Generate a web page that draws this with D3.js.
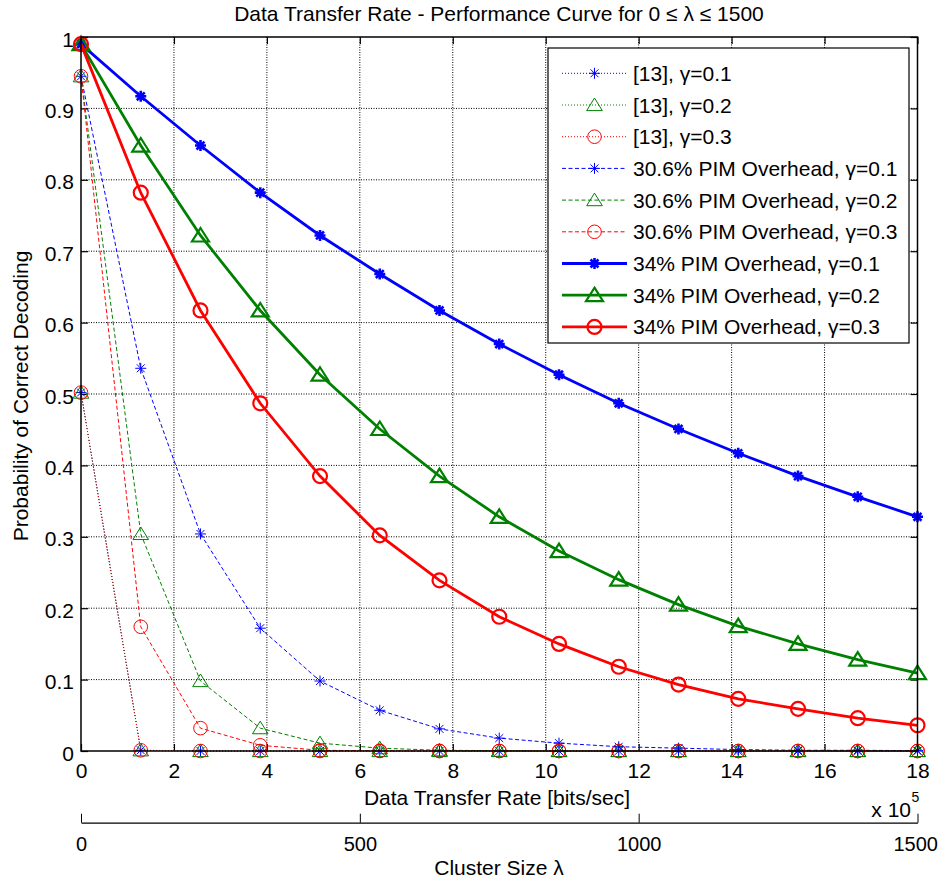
<!DOCTYPE html>
<html><head><meta charset="utf-8">
<script src="https://cdn.jsdelivr.net/npm/d3@7"></script>
<style>
body{margin:0;background:#fff;}
text{font-family:"Liberation Sans",Arial,Helvetica,sans-serif;fill:#000;}
</style>
</head><body>
<svg id="chart" width="939" height="885"></svg>
<script>
// ---------- data ----------
const rateX = [0, 1.286, 2.571, 3.857, 5.143, 6.429, 7.714, 9, 10.286, 11.571, 12.857, 14.143, 15.429, 16.714, 18];
const xTickValues = [0, 2, 4, 6, 8, 10, 12, 14, 16, 18];
const yTickValues = [0, 0.1, 0.2, 0.3, 0.4, 0.5, 0.6, 0.7, 0.8, 0.9, 1];
const yTickLabels = ["0", "0.1", "0.2", "0.3", "0.4", "0.5", "0.6", "0.7", "0.8", "0.9", "1"];
const lambdaTicks = [0, 500, 1000, 1500];

const ref13_g1 = [0.502, 0.001, 0, 0, 0, 0, 0, 0, 0, 0, 0, 0, 0, 0, 0];
const ref13_g2 = [0.502, 0.001, 0, 0, 0, 0, 0, 0, 0, 0, 0, 0, 0, 0, 0];
const ref13_g3 = [0.502, 0.001, 0, 0, 0, 0, 0, 0, 0, 0, 0, 0, 0, 0, 0];
const pim306_g1 = [0.945, 0.536, 0.304, 0.172, 0.098, 0.057, 0.031, 0.018, 0.011, 0.006, 0.004, 0.002, 0.001, 0.001, 0.0005];
const pim306_g2 = [0.945, 0.304, 0.098, 0.032, 0.011, 0.004, 0.001, 0.0005, 0, 0, 0, 0, 0, 0, 0];
const pim306_g3 = [0.945, 0.174, 0.032, 0.008, 0.001, 0.0003, 0, 0, 0, 0, 0, 0, 0, 0, 0];
const pim34_g1 = [0.99, 0.917, 0.848, 0.782, 0.722, 0.668, 0.617, 0.570, 0.527, 0.487, 0.451, 0.417, 0.385, 0.356, 0.328];
const pim34_g2 = [0.99, 0.848, 0.722, 0.617, 0.527, 0.451, 0.385, 0.328, 0.280, 0.240, 0.205, 0.175, 0.150, 0.128, 0.109];
const pim34_g3 = [0.99, 0.782, 0.617, 0.487, 0.385, 0.302, 0.239, 0.188, 0.150, 0.118, 0.093, 0.073, 0.059, 0.046, 0.036];

const seriesLabels = ["[13], γ=0.1", "[13], γ=0.2", "[13], γ=0.3",
  "30.6% PIM Overhead, γ=0.1", "30.6% PIM Overhead, γ=0.2", "30.6% PIM Overhead, γ=0.3",
  "34% PIM Overhead, γ=0.1", "34% PIM Overhead, γ=0.2", "34% PIM Overhead, γ=0.3"];
const seriesValues = [ref13_g1, ref13_g2, ref13_g3, pim306_g1, pim306_g2, pim306_g3, pim34_g1, pim34_g2, pim34_g3];
const seriesColors = ["#0000ff", "#008000", "#ff0000", "#0000ff", "#008000", "#ff0000", "#0000ff", "#008000", "#ff0000"];
const seriesMarkers = ["star", "tri", "circ", "star", "tri", "circ", "star", "tri", "circ"];
const seriesStyles = ["dot", "dot", "dot", "dash", "dash", "dash", "solid", "solid", "solid"];

const titleText = "Data Transfer Rate - Performance Curve for 0 ≤ λ ≤ 1500";
const xLabelText = "Data Transfer Rate [bits/sec]";
const yLabelText = "Probability of Correct Decoding";
const lambdaLabelText = "Cluster Size λ";

// ---------- layout ----------
const L = 81, R = 917.5, T = 37, B = 751;
const FS = 21;
const svg = d3.select("#chart");
svg.append("rect").attr("width", 939).attr("height", 885).attr("fill", "#fff");

const x = d3.scaleLinear().domain([0, 18]).range([L, R]);
const y = d3.scaleLinear().domain([0, 1]).range([B, T]);
const lam = d3.scaleLinear().domain([0, 1500]).range([L, R]);

// grid
const grid = svg.append("g");
grid.selectAll(".gx").data(xTickValues.filter(v => v > 0 && v < 18)).join("line")
  .attr("x1", d => x(d)).attr("x2", d => x(d)).attr("y1", T).attr("y2", B)
  .attr("stroke", "#000").attr("stroke-width", 1).attr("stroke-dasharray", "1,1.5");
grid.selectAll(".gy").data(yTickValues.filter(v => v > 0 && v < 1)).join("line")
  .attr("x1", L).attr("x2", R).attr("y1", d => y(d)).attr("y2", d => y(d))
  .attr("stroke", "#000").attr("stroke-width", 1).attr("stroke-dasharray", "1,1.5");

// axes
function styleAxis(g) {
  g.selectAll("text").style("font-size", FS + "px").style("font-family", "'Liberation Sans',Arial,sans-serif").attr("fill", "#000");
  g.selectAll("line").attr("stroke", "#000").attr("stroke-width", 1.2);
  g.select(".domain").remove();
}
svg.append("g").attr("transform", `translate(0,${B})`)
  .call(d3.axisBottom(x).tickValues(xTickValues).tickSize(-7).tickPadding(12.3).tickFormat(d3.format("d")))
  .call(styleAxis);
svg.append("g").attr("transform", `translate(0,${T})`)
  .call(d3.axisTop(x).tickValues(xTickValues).tickSize(-7).tickFormat(""))
  .call(styleAxis);
const yAx = svg.append("g").attr("transform", `translate(${L},0)`)
  .call(d3.axisLeft(y).tickValues(yTickValues).tickSize(-7).tickPadding(7).tickFormat((d, i) => yTickLabels[i]))
  .call(styleAxis);
yAx.selectAll("text").attr("dy", "0.43em");
svg.append("g").attr("transform", `translate(${R},0)`)
  .call(d3.axisRight(y).tickValues(yTickValues).tickSize(-7).tickFormat(""))
  .call(styleAxis);

// series
const lineGen = d3.line().x((d, i) => x(rateX[i])).y(d => y(d));
const plot = svg.append("g");
function drawMarker(g, type, cx, cy, color, heavy) {
  const sw = heavy ? 2.2 : 1;
  if (type === "circ") {
    g.append("circle").attr("cx", cx).attr("cy", cy).attr("r", heavy ? 7 : 6.8)
      .attr("fill", "none").attr("stroke", color).attr("stroke-width", sw);
  } else if (type === "tri") {
    const h = heavy ? 7.5 : 7;
    const w = heavy ? 8.5 : 7.8;
    g.append("path").attr("d", `M${cx},${cy - h}L${cx + w},${cy + h * 0.8}L${cx - w},${cy + h * 0.8}Z`)
      .attr("fill", "none").attr("stroke", color).attr("stroke-width", sw).attr("stroke-linejoin", "miter");
  } else {
    const s = 5.5, d = s * 0.72;
    g.append("path").attr("d", `M${cx - s},${cy}H${cx + s}M${cx},${cy - s}V${cy + s}M${cx - d},${cy - d}L${cx + d},${cy + d}M${cx - d},${cy + d}L${cx + d},${cy - d}`)
      .attr("fill", "none").attr("stroke", color).attr("stroke-width", heavy ? 2.6 : 1);
  }
}
function lineAttrs(sel, style, color) {
  sel.attr("fill", "none").attr("stroke", color)
    .attr("stroke-width", style === "solid" ? 2.8 : 1)
    .attr("stroke-dasharray", style === "dot" ? "1,2" : style === "dash" ? "4,2.5" : null);
}
seriesValues.forEach((vals, k) => {
  const g = plot.append("g");
  g.append("path").datum(vals).attr("d", lineGen).call(lineAttrs, seriesStyles[k], seriesColors[k]);
  vals.forEach((v, i) => drawMarker(g, seriesMarkers[k], x(rateX[i]), y(v), seriesColors[k], seriesStyles[k] === "solid"));
});

// frame
svg.append("rect").attr("x", L).attr("y", T).attr("width", R - L).attr("height", B - T)
  .attr("fill", "none").attr("stroke", "#000").attr("stroke-width", 1.5);

// legend
const lg = svg.append("g");
lg.append("rect").attr("x", 548).attr("y", 48).attr("width", 361).attr("height", 295)
  .attr("fill", "#fff").attr("stroke", "#000").attr("stroke-width", 1.2);
seriesLabels.forEach((lbl, k) => {
  const cy = 73.3 + k * 31.7;
  const gi = lg.append("g");
  gi.append("line").attr("x1", 562).attr("x2", 627).attr("y1", cy).attr("y2", cy)
    .call(lineAttrs, seriesStyles[k], seriesColors[k]);
  drawMarker(gi, seriesMarkers[k], 594.5, cy, seriesColors[k], seriesStyles[k] === "solid");
  gi.append("text").attr("x", 633).attr("y", cy + 7.5).style("font-size", FS + "px").text(lbl);
});

// titles
svg.append("text").attr("x", 499).attr("y", 21).attr("text-anchor", "middle").style("font-size", "21px").text(titleText);
svg.append("text").attr("x", 497).attr("y", 805).attr("text-anchor", "middle").style("font-size", FS + "px").text(xLabelText);
svg.append("text").attr("transform", "translate(28,396) rotate(-90)").attr("text-anchor", "middle").style("font-size", FS + "px").text(yLabelText);
svg.append("text").attr("x", 911).attr("y", 817).attr("text-anchor", "end").style("font-size", FS + "px").text("x 10");
svg.append("text").attr("x", 911.5).attr("y", 802).style("font-size", "14px").text("5");

// second axis (cluster size)
const lamAx = svg.append("g").attr("transform", "translate(0,822.7)")
  .call(d3.axisBottom(lam).tickValues(lambdaTicks).tickSize(-9).tickSizeOuter(0).tickPadding(14.5).tickFormat(d3.format("d")));
lamAx.select(".domain").attr("stroke", "#000").attr("stroke-width", 1.2);
lamAx.selectAll("line").attr("stroke", "#000");
lamAx.selectAll("text").style("font-size", "20px").style("font-family", "'Liberation Sans',Arial,sans-serif").attr("fill", "#000");
// keep the last label inside the canvas, as in the reference
lamAx.selectAll("text").filter(d => d === 1500).attr("text-anchor", "end").attr("x", 20);
svg.append("text").attr("x", 499).attr("y", 875).attr("text-anchor", "middle").style("font-size", FS + "px").text(lambdaLabelText);
</script>
</body></html>
